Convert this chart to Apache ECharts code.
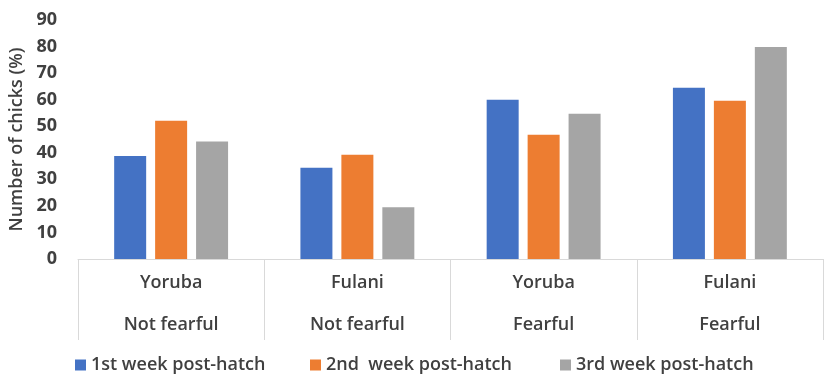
<!DOCTYPE html>
<html>
<head>
<meta charset="utf-8">
<script src="https://cdn.jsdelivr.net/npm/echarts@6/dist/echarts.min.js"></script>
<style>
    html, body { margin: 0; padding: 0; background: #fff; }
    #chart { width: 829px; height: 384px; }
</style>
</head>
<body>
<div id="chart"></div>
<script>
// chick data
var breeds = ['Yoruba', 'Fulani', 'Yoruba', 'Fulani'];
var fearGroups = ['Not fearful', 'Not fearful', 'Fearful', 'Fearful'];
var seriesNames = ['1st week post-hatch', '2nd  week post-hatch', '3rd week post-hatch'];
var week1 = [38.8, 34.4, 60.0, 64.5];
var week2 = [52.1, 39.3, 46.8, 59.6];
var week3 = [44.2, 19.5, 54.7, 79.8];
var colors = ['#4472C4', '#ED7D31', '#A5A5A5'];

var categories = breeds.map(function (b, i) {
    return b + '\n' + fearGroups[i];
});

var font = '"Open Sans", Lato, sans-serif';
var textColor = '#404040';

var makeBar = function (name, values, color) {
    return {
        name: name,
        type: 'bar',
        data: values,
        barWidth: 32,
        barGap: '28%',
        itemStyle: { color: color }
    };
};

// one legend per series so each item sits where the original one does
var legendLefts = [75, 310, 560];
var legends = seriesNames.map(function (n, i) {
    return {
        left: legendLefts[i],
        top: 356,
        padding: 0,
        itemWidth: 11,
        itemHeight: 11,
        icon: 'rect',
        textStyle: { fontFamily: font, fontSize: 18, fontWeight: 600, color: textColor },
        data: [n]
    };
});

var myChart = echarts.init(document.getElementById('chart'));
var option = {
    animation: false,
    grid: { left: 78, right: 6, top: 20, bottom: 125, outerBoundsMode: 'none' },
    legend: legends,
    xAxis: {
        type: 'category',
        data: categories,
        axisLine: { lineStyle: { color: '#d9d9d9' } },
        axisTick: { show: true, interval: 0, length: 81, lineStyle: { color: '#d9d9d9' } },
        axisLabel: {
            interval: 0,
            margin: 3,
            lineHeight: 42,
            fontFamily: font,
            fontSize: 18,
            fontWeight: 600,
            color: textColor
        }
    },
    yAxis: {
        type: 'value',
        min: 0,
        max: 90,
        interval: 10,
        name: 'Number of chicks (%)',
        nameLocation: 'middle',
        nameGap: 48,
        nameTextStyle: { fontFamily: font, fontSize: 18, fontWeight: 600, color: textColor },
        axisLine: { show: false },
        axisTick: { show: false },
        splitLine: { show: false },
        axisLabel: {
            margin: 21,
            fontFamily: font,
            fontSize: 18,
            fontWeight: 'bold',
            color: textColor
        }
    },
    series: [
        makeBar(seriesNames[0], week1, colors[0]),
        makeBar(seriesNames[1], week2, colors[1]),
        makeBar(seriesNames[2], week3, colors[2])
    ]
};
myChart.setOption(option);
</script>
</body>
</html>
